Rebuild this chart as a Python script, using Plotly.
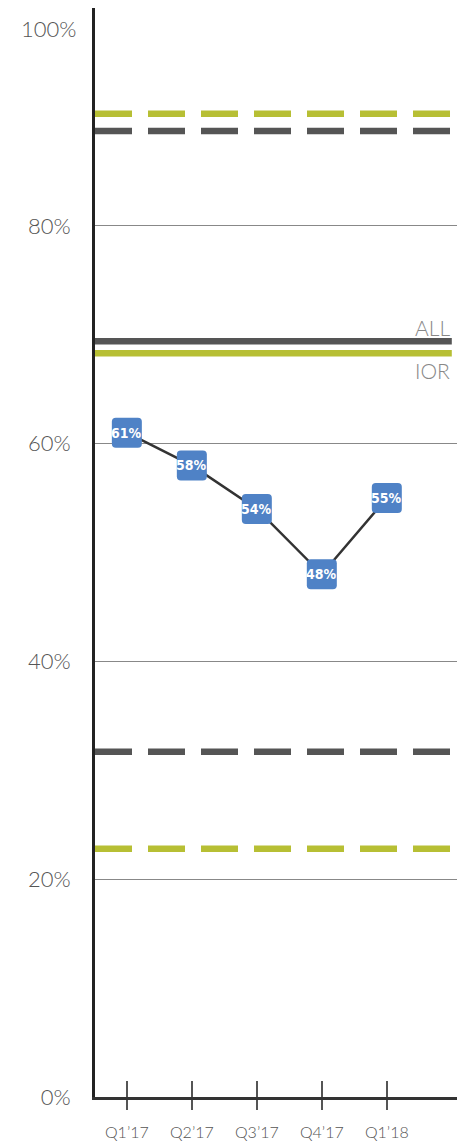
import plotly.graph_objects as go

# Quarterly rate series
quarters = ["Q1\u201917", "Q2\u201917", "Q3\u201917", "Q4\u201917", "Q1\u201918"]
rates = [61, 58, 54, 48, 55]

# Benchmark levels (averages and limits)
all_avg = 69.4
ior_avg = 68.3
all_limits = [88.7, 31.7]
ior_limits = [90.3, 22.8]

y_ticks = [0, 20, 40, 60, 80]
y_tick_text = ["0%", "20%", "40%", "60%", "80%"]

DARK = "#555555"
GREEN = "#b7bf34"
BLUE = "#4f82c6"
LABEL_FONT = "Lato, Open Sans"

xs = list(range(len(quarters)))
x_left, x_right = -0.49, 5.08
x_end = 5.0

fig = go.Figure()

# dashed limit lines
for lvl in all_limits:
    fig.add_trace(go.Scatter(x=[x_left, x_end], y=[lvl, lvl], mode="lines",
                             line=dict(color=DARK, width=6.5, dash="37px,16px"),
                             hoverinfo="skip", showlegend=False))
for lvl in ior_limits:
    fig.add_trace(go.Scatter(x=[x_left, x_end], y=[lvl, lvl], mode="lines",
                             line=dict(color=GREEN, width=6.5, dash="37px,16px"),
                             hoverinfo="skip", showlegend=False))

# solid average lines
fig.add_trace(go.Scatter(x=[x_left, x_end], y=[all_avg, all_avg], mode="lines",
                         line=dict(color=DARK, width=6.5), hoverinfo="skip", showlegend=False))
fig.add_trace(go.Scatter(x=[x_left, x_end], y=[ior_avg, ior_avg], mode="lines",
                         line=dict(color=GREEN, width=6.5), hoverinfo="skip", showlegend=False))

# quarterly series line
fig.add_trace(go.Scatter(x=xs, y=rates, mode="lines",
                         line=dict(color="#333333", width=2.5), showlegend=False))

# rounded value boxes, anchored on each data point
h, r = 15, 4
box_path = (f"M {-h + r},{-h} L {h - r},{-h} Q {h},{-h} {h},{-h + r} "
            f"L {h},{h - r} Q {h},{h} {h - r},{h} L {-h + r},{h} "
            f"Q {-h},{h} {-h},{h - r} L {-h},{-h + r} Q {-h},{-h} {-h + r},{-h} Z")
for x, v in zip(xs, rates):
    fig.add_shape(type="path", path=box_path, xref="x", yref="y",
                  xsizemode="pixel", ysizemode="pixel", xanchor=x, yanchor=v,
                  fillcolor=BLUE, line=dict(width=0), layer="above")
    fig.add_annotation(x=x, y=v, text=f"{v}%", showarrow=False,
                       font=dict(family="DejaVu Sans Condensed, Liberation Sans Narrow, Arial",
                                 size=14, color="white", weight="bold"))

# series labels
fig.add_annotation(x=x_end, y=all_avg, text="ALL", showarrow=False, xanchor="right",
                   yshift=14, font=dict(family=LABEL_FONT, size=21, color="#888888", weight=300))
fig.add_annotation(x=x_end, y=ior_avg, text="IOR", showarrow=False, xanchor="right",
                   yshift=-17, font=dict(family=LABEL_FONT, size=21, color="#888888", weight=300))

# top tick label sits just below the top of the axis
fig.add_annotation(xref="paper", x=0, y=100, yshift=-20, xanchor="right", xshift=-17,
                   text="100%", showarrow=False,
                   font=dict(family=LABEL_FONT, size=22, color="#555555", weight=300))

fig.update_layout(
    width=459, height=1143,
    margin=dict(l=95, r=2, t=8, b=46),
    plot_bgcolor="white", paper_bgcolor="white",
    showlegend=False,
    xaxis=dict(range=[x_left, x_right], tickvals=xs, ticktext=quarters,
               showgrid=False, zeroline=False, showline=True, automargin=False,
               linecolor="#333333", linewidth=2.5,
               ticks="outside", ticklen=10, tickwidth=2, tickcolor=DARK,
               tickfont=dict(family=LABEL_FONT, size=16, color="#555555", weight=300),
               ticklabelstandoff=9),
    xaxis2=dict(range=[x_left, x_right], overlaying="x", anchor="y", side="bottom",
                tickvals=xs, ticktext=["" for _ in xs], showgrid=False, zeroline=False,
                automargin=False,
                showline=False, ticks="inside", ticklen=16, tickwidth=2, tickcolor=DARK),
    yaxis=dict(range=[0, 100], tickvals=y_ticks, ticktext=y_tick_text, automargin=False,
               showgrid=True, gridcolor="#888888", gridwidth=1,
               zeroline=False, showline=True, linecolor="#222222", linewidth=3,
               ticks="", ticklabelstandoff=17,
               tickfont=dict(family=LABEL_FONT, size=22, color="#555555", weight=300)),
)

# invisible trace so the secondary x axis (inner ticks) is drawn
fig.add_trace(go.Scatter(x=[xs[0]], y=[None], xaxis="x2", yaxis="y",
                         mode="markers", showlegend=False, hoverinfo="skip"))

fig.write_html("out.html")
